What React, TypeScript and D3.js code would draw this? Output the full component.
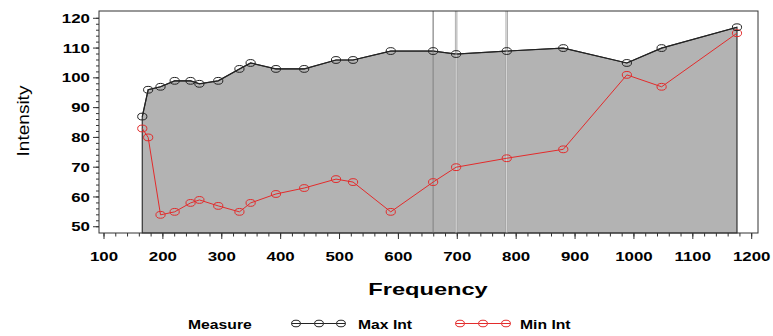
import React from "react";
import * as d3 from "d3";

// Note frequencies (Hz), E3 .. D6
const frequencies = [165, 175, 196, 220, 247, 262, 294, 330, 349, 392, 440, 494, 523, 587, 659, 698, 784, 880, 988, 1047, 1175];
const maxInt = [87, 96, 97, 99, 99, 98, 99, 103, 105, 103, 103, 106, 106, 109, 109, 108, 109, 110, 105, 110, 117];
const minInt = [83, 80, 54, 55, 58, 59, 57, 55, 58, 61, 63, 66, 65, 55, 65, 70, 73, 76, 101, 97, 115];
const refLines = [659, 698, 784];
const xTicks = [100, 200, 300, 400, 500, 600, 700, 800, 900, 1000, 1100, 1200];
const yTicks = [50, 60, 70, 80, 90, 100, 110, 120];

const W = 773;
const H = 336;
const left = 99, right = 758, top = 11, bottom = 233;

const FONT = "'Liberation Sans', Arial, Helvetica, sans-serif";

function SText(props: {
  x: number; y: number; sx?: number; anchor?: "start" | "middle" | "end";
  size: number; weight?: string | number; rotate?: number; children: React.ReactNode;
}) {
  const { x, y, sx = 1.3, anchor = "start", size, weight = "bold", rotate = 0, children } = props;
  return (
    <text
      transform={`translate(${x},${y}) rotate(${rotate}) scale(${sx},1)`}
      textAnchor={anchor}
      fontFamily={FONT}
      fontSize={size}
      fontWeight={weight}
      fill="#000"
    >
      {children}
    </text>
  );
}

export default function App() {
  const x = d3.scaleLinear().domain([91.5, 1210.7]).range([left, right]);
  const y = d3.scaleLinear().domain([47.9, 122.45]).range([bottom, top]);

  const pts = frequencies.map((f, i) => ({ f, max: maxInt[i], min: minInt[i] }));

  const area = d3
    .area<{ f: number; max: number }>()
    .x((d) => x(d.f))
    .y0(y(47.9))
    .y1((d) => y(d.max))(pts);

  const lineMax = d3.line<{ f: number; max: number }>().x((d) => x(d.f)).y((d) => y(d.max))(pts);
  const lineMin = d3.line<{ f: number; min: number }>().x((d) => x(d.f)).y((d) => y(d.min))(pts);

  const xMinor = d3.range(100, 1201, 20);
  const yMinor = d3.range(50, 121, 2);

  const red = "#e32b2b";
  const black = "#222";

  const legendY = 323.5;

  return (
    <svg width={W} height={H} style={{ position: "absolute", left: 0, top: 0, background: "#fff" }}>
      {/* band between the frame floor and the maximum curve */}
      <path d={area ?? ""} fill="#b3b3b3" stroke="#333" strokeWidth={1.2} />

      {/* reference lines */}
      {refLines.map((f, i) =>
        i === 0 ? (
          <line key={f} x1={x(f)} x2={x(f)} y1={top} y2={bottom} stroke="#8c8c8c" strokeWidth={1.3} />
        ) : (
          <g key={f}>
            <line x1={x(f)} x2={x(f)} y1={top} y2={bottom} stroke="#9a9a9a" strokeWidth={2.4} />
            <line x1={x(f)} x2={x(f)} y1={top} y2={bottom} stroke="#e6e6e6" strokeWidth={1} />
          </g>
        )
      )}

      {/* series */}
      <path d={lineMin ?? ""} fill="none" stroke={red} strokeWidth={1} />
      <path d={lineMax ?? ""} fill="none" stroke={black} strokeWidth={1.1} />
      {pts.map((d) => (
        <ellipse key={"n" + d.f} cx={x(d.f)} cy={y(d.min)} rx={4.6} ry={3.4} fill="none" stroke={red} strokeWidth={1} />
      ))}
      {pts.map((d) => (
        <ellipse key={"x" + d.f} cx={x(d.f)} cy={y(d.max)} rx={4.6} ry={3.4} fill="none" stroke={black} strokeWidth={1} />
      ))}

      {/* frame */}
      <rect x={left} y={top} width={right - left} height={bottom - top} fill="none" stroke="#333" strokeWidth={1} />

      {/* y axis */}
      {yMinor.map((v) => (
        <line key={"ym" + v} x1={left - 3} x2={left} y1={y(v)} y2={y(v)} stroke="#333" strokeWidth={1} />
      ))}
      {yTicks.map((v) => (
        <g key={"y" + v}>
          <line x1={left - 6} x2={left} y1={y(v)} y2={y(v)} stroke="#333" strokeWidth={1} />
          <SText x={90} y={y(v) + 4.6} anchor="end" size={13}>
            {v}
          </SText>
        </g>
      ))}

      {/* x axis */}
      {xMinor.map((v) => (
        <line key={"xm" + v} x1={x(v)} x2={x(v)} y1={bottom} y2={bottom + 3.5} stroke="#333" strokeWidth={1} />
      ))}
      {xTicks.map((v) => (
        <g key={"x" + v}>
          <line x1={x(v)} x2={x(v)} y1={bottom} y2={bottom + 6} stroke="#333" strokeWidth={1} />
          <SText x={x(v)} y={261} anchor="middle" size={13}>
            {v}
          </SText>
        </g>
      ))}

      {/* axis titles */}
      <SText x={428} y={295} anchor="middle" size={17} sx={1.39}>
        Frequency
      </SText>
      <SText x={28.5} y={121} anchor="middle" size={17} sx={1.12} weight="normal" rotate={-90}>
        Intensity
      </SText>

      {/* legend */}
      <SText x={188} y={329} size={13} sx={1.21}>
        Measure
      </SText>
      <line x1={296} x2={341} y1={legendY} y2={legendY} stroke={black} strokeWidth={1} />
      {[296, 319, 341].map((cx) => (
        <ellipse key={"lb" + cx} cx={cx} cy={legendY} rx={4.4} ry={3.3} fill="#fff" stroke={black} strokeWidth={1} />
      ))}
      {[296, 319, 341].map((cx) => (
        <line key={"lbl" + cx} x1={cx - 4.4} x2={cx + 4.4} y1={legendY} y2={legendY} stroke={black} strokeWidth={1} />
      ))}
      <SText x={358} y={329} size={13} sx={1.21}>
        Max Int
      </SText>
      <line x1={460} x2={506} y1={legendY} y2={legendY} stroke={red} strokeWidth={1} />
      {[460, 483, 506].map((cx) => (
        <ellipse key={"lr" + cx} cx={cx} cy={legendY} rx={4.4} ry={3.3} fill="#fff" stroke={red} strokeWidth={1} />
      ))}
      {[460, 483, 506].map((cx) => (
        <line key={"lrl" + cx} x1={cx - 4.4} x2={cx + 4.4} y1={legendY} y2={legendY} stroke={red} strokeWidth={1} />
      ))}
      <SText x={520} y={329} size={13} sx={1.21}>
        Min Int
      </SText>
    </svg>
  );
}
